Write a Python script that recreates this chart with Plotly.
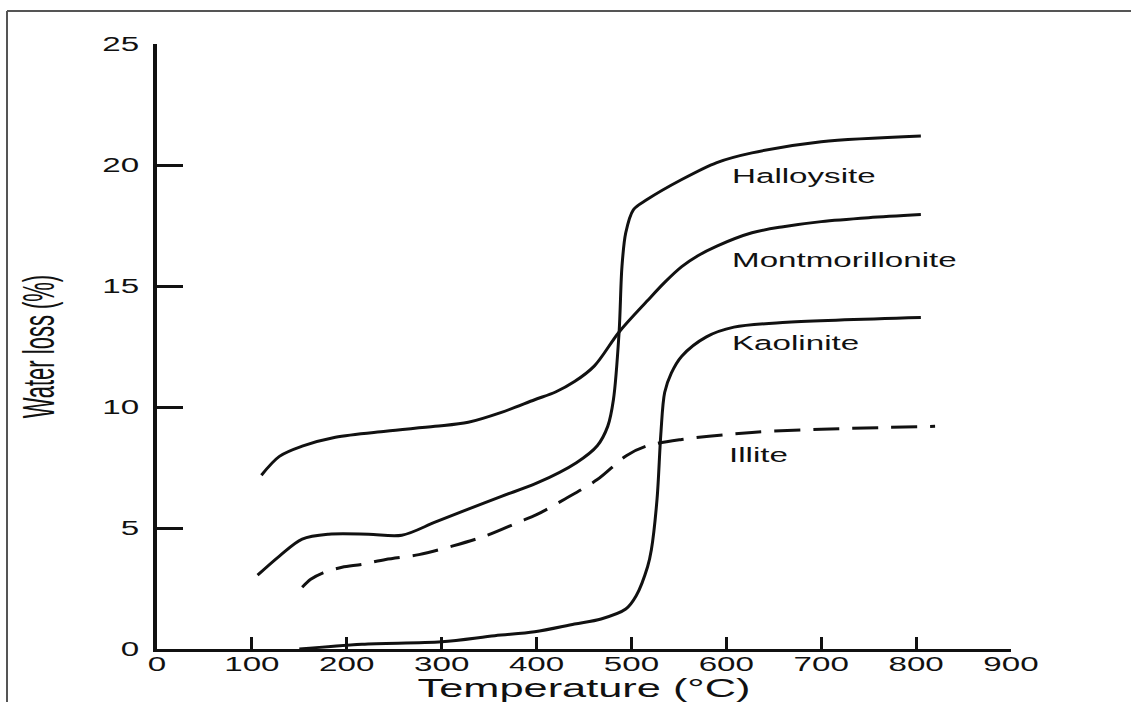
import plotly.graph_objects as go

# ---------------- data ----------------
halloysite_t = [106, 129, 153, 181, 223, 258, 293, 328, 363, 400, 442, 464, 475, 481,
                487, 490, 494, 502, 516, 553, 590, 627, 700, 805]
halloysite_w = [3.05, 3.84, 4.54, 4.74, 4.74, 4.70, 5.24, 5.78, 6.31, 6.85, 7.7, 8.4, 9.2, 10.3,
                13.1, 15.8, 17.2, 18.15, 18.56, 19.4, 20.1, 20.5, 20.96, 21.2]

montmorillonite_t = [110, 129, 153, 188, 241, 293, 328, 363, 398, 420, 440, 461, 487, 517,
                     535, 553, 570, 590, 627, 660, 700, 750, 805]
montmorillonite_w = [7.18, 7.96, 8.38, 8.75, 9.0, 9.2, 9.37, 9.78, 10.3, 10.62, 11.05, 11.7, 13.1, 14.4,
                     15.15, 15.8, 16.25, 16.65, 17.2, 17.45, 17.66, 17.82, 17.95]

kaolinite_t = [150, 216, 300, 356, 398, 440, 468, 494, 505, 517, 521, 527, 531, 535,
               542, 553, 579, 608, 664, 805]
kaolinite_w = [0.0, 0.2, 0.3, 0.55, 0.71, 1.03, 1.24, 1.65, 2.2, 3.4, 4.1, 6.2, 8.9, 10.6,
               11.4, 12.1, 12.9, 13.3, 13.5, 13.7]

illite_t = [153, 162, 175, 195, 216, 241, 276, 311, 346, 381, 400, 430, 464, 495, 517, 553, 627, 700, 820]
illite_w = [2.55, 2.88, 3.15, 3.38, 3.5, 3.7, 3.9, 4.25, 4.67, 5.24, 5.55, 6.2, 7.0, 8.0, 8.4, 8.66, 8.95, 9.08, 9.2]

label_names = ["Halloysite", "Montmorillonite", "Kaolinite", "Illite"]
label_t = [604, 604, 604, 601]
label_w = [19.55, 16.07, 12.64, 8.02]

x_ticks = [0, 100, 200, 300, 400, 500, 600, 700, 800, 900]
y_ticks = [0, 5, 10, 15, 20, 25]

FONT = "Liberation Sans, Arial, Helvetica, sans-serif"
INK = "#111111"

fig = go.Figure()

series = [
    (halloysite_t, halloysite_w, "Halloysite", "solid"),
    (montmorillonite_t, montmorillonite_w, "Montmorillonite", "solid"),
    (kaolinite_t, kaolinite_w, "Kaolinite", "solid"),
    (illite_t, illite_w, "Illite", "26px,13px"),
]
for t, w, name, dash in series:
    fig.add_trace(go.Scatter(
        x=t, y=w, mode="lines", name=name, showlegend=False,
        line=dict(color=INK, width=3, dash=dash, shape="spline", smoothing=0.9),
    ))

for n, t, w in zip(label_names, label_t, label_w):
    fig.add_annotation(x=t, y=w, text=n, showarrow=False, xanchor="left", yanchor="middle",
                       font=dict(family=FONT, size=19.5, color=INK))

# thin frame around the picture (top and left edges visible)
L, R, T, B = 157, 1011, 44, 649
def px_x(p):
    return (p - L) / (R - L)
def px_y(p):
    return (B - p) / (B - T)
fig.add_shape(type="line", xref="paper", yref="paper",
              x0=px_x(7), x1=px_x(1140), y0=px_y(11), y1=px_y(11),
              line=dict(color="#555555", width=2))
fig.add_shape(type="line", xref="paper", yref="paper",
              x0=px_x(7), x1=px_x(7), y0=px_y(11), y1=px_y(710),
              line=dict(color="#555555", width=2))

fig.update_layout(
    width=1131, height=702,
    margin=dict(l=L, r=1131 - R, t=T, b=702 - B, pad=0),
    paper_bgcolor="white", plot_bgcolor="white",
    font=dict(family=FONT, color=INK),
)
fig.update_xaxes(
    range=[0, 900], tickvals=x_ticks, ticktext=[str(v) for v in x_ticks],
    showline=True, linecolor=INK, linewidth=3, ticks="inside", ticklen=12, tickwidth=3,
    tickcolor=INK, showgrid=False, zeroline=False, automargin=False,
    tickfont=dict(family=FONT, size=19.5, color=INK), ticklabelstandoff=-4,
    title=dict(text="Temperature (°C)", font=dict(family=FONT, size=25.5, color=INK), standoff=6),
)
fig.update_yaxes(
    range=[0, 25], tickvals=y_ticks, ticktext=[str(v) for v in y_ticks],
    showline=True, linecolor=INK, linewidth=4, ticks="inside", ticklen=26, tickwidth=2.5,
    tickcolor=INK, showgrid=False, zeroline=False, automargin=False,
    tickfont=dict(family=FONT, size=19.5, color=INK), ticklabelstandoff=10,
    title=dict(text="Water loss (%)", font=dict(family=FONT, size=22, color=INK), standoff=53),
)

# the reference's lettering is horizontally stretched; reproduce that on the real SVG text
post_js = """
var gd = document.querySelector('.plotly-graph-div');
function stretch(el, useLeft, S, dx) {
  var x, y;
  if (useLeft) { var bb = el.getBBox(); x = bb.x; y = bb.y; }
  else { x = parseFloat(el.getAttribute('x')) || 0; y = parseFloat(el.getAttribute('y')) || 0; }
  var ax = x;
  var tl = el.transform.baseVal;
  if (tl.numberOfItems > 0) { var m = tl.consolidate().matrix; ax = m.a * x + m.c * y + m.e; }
  var old = el.getAttribute('transform') || '';
  el.setAttribute('transform', 'translate(' + (ax + (dx || 0)) + ',0) scale(' + S + ',1) translate(' + (-ax) + ',0) ' + old);
}
gd.querySelectorAll('.xtick text, .ytick text, .g-xtitle text').forEach(function (el) { stretch(el, false, 1.7, 0); });
gd.querySelectorAll('.g-ytitle text').forEach(function (el) { stretch(el, false, 2.0, -5); });
gd.querySelectorAll('.annotation-text').forEach(function (el) { stretch(el, true, 1.7, 0); });
"""

fig.write_html("out.html", post_script=post_js)
